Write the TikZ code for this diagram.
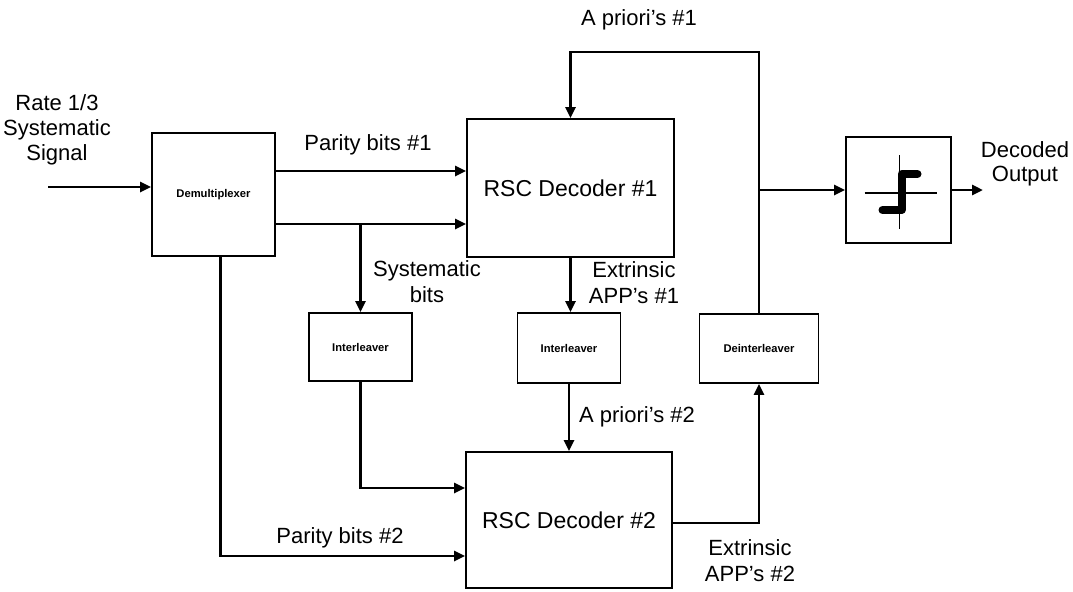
\documentclass[tikz,border=0pt]{standalone}
\usepackage{fontspec}
\setmainfont{Liberation Sans}
\usetikzlibrary{arrows.meta}

\begin{document}
\begin{tikzpicture}[
  x=0.5pt,y=-0.5pt,
  box/.style={draw,line width=0.9pt,inner sep=0pt,align=center},
  small/.style={font=\bfseries\fontsize{5.6}{7}\selectfont},
  txt/.style={font=\fontsize{11.5}{13}\selectfont},
  lbl/.style={align=center,inner sep=0pt,font=\fontsize{11}{12.5}\selectfont},
  arrow/.style={-{Triangle[length=5.5pt,width=5pt]},line width=1.4pt}
]
\useasboundingbox (0,0) rectangle (1073,591);

% blocks
\node[box,small,minimum width=61.5pt,minimum height=61.5pt] (demux) at (213.5,194.5) {Demultiplexer};
\node[box,txt,minimum width=103.5pt,minimum height=69pt] (rsc1) at (570.5,188) {RSC Decoder \#1};
\node[box,txt,minimum width=103pt,minimum height=68pt] (rsc2) at (569,520) {RSC Decoder \#2};
\node[box,small,minimum width=51.5pt,minimum height=34pt] (il1) at (360.5,347) {Interleaver};
\node[box,small,minimum width=51.5pt,minimum height=35pt] (il2) at (569,348) {Interleaver};
\node[box,small,minimum width=59.5pt,minimum height=34.5pt] (deint) at (759,348.5) {Deinterleaver};
\node[box,minimum width=52.5pt,minimum height=53pt] (dec) at (898.5,190) {};

% hard decision symbol
\begin{scope}[shift={(dec.center)}]
  \draw[line width=0.9pt] (-34,3) -- (38,3);
  \draw[line width=0.9pt] (1,-35) -- (1,39);
  \draw[line width=4pt,line join=round,line cap=round] (19,-16) -- (3,-16) -- (3,20) -- (-16,20);
\end{scope}

% labels
\node[lbl] (sig) at (57,130) {Rate 1/3\\Systematic\\Signal};
\node[lbl] (par1) at (368,145) {Parity bits \#1};
\node[lbl,font=\fontsize{11}{13}\selectfont] (sysb) at (427,282) {Systematic\\bits};
\node[lbl,font=\fontsize{11}{13}\selectfont] (ext1) at (634,283) {Extrinsic\\APP's \#1};
\node[lbl] (apr1) at (639,20) {A priori's \#1};
\node[lbl] (apr2) at (637,417) {A priori's \#2};
\node[lbl] (par2) at (340,538) {Parity bits \#2};
\node[lbl,font=\fontsize{11}{13}\selectfont] (ext2) at (750,561) {Extrinsic\\APP's \#2};
\node[lbl,font=\fontsize{11}{12}\selectfont] (decout) at (1025,164) {Decoded\\Output};

% ports
\coordinate (src) at (48,187);
\coordinate (r1a) at ([yshift=8.5pt]rsc1.west);
\coordinate (r1b) at ([yshift=-18pt]rsc1.west);
\coordinate (r2a) at ([yshift=16pt]rsc2.west);
\coordinate (r2b) at ([yshift=-18pt]rsc2.west);
\coordinate (fb) at (700,52);
\coordinate (out) at (983,193);

% connectors
\draw[arrow] (src) -- (src -| demux.west);
\draw[arrow] (demux.east |- r1a) -- (r1a);
\draw[arrow] (demux.east |- r1b) -- (r1b);
\draw[arrow] (il1.north |- r1b) -- (il1.north);
\draw[arrow] (il1.south) |- (r2a);
\draw[arrow] ([xshift=3.5pt]demux.south) |- (r2b);
\draw[arrow] (rsc1.south) -- (rsc1.south |- il2.north);
\draw[arrow] (il2.south) -- (il2.south |- rsc2.north);
\draw[arrow] ([yshift=-1.5pt]rsc2.east) -| (deint.south);
\draw[arrow] (deint.north) |- (fb) -| (rsc1.north);
\draw[arrow] (deint.north |- dec.west) -- (dec.west);
\draw[arrow] (dec.east) -- (dec.east -| out);
\end{tikzpicture}
\end{document}
